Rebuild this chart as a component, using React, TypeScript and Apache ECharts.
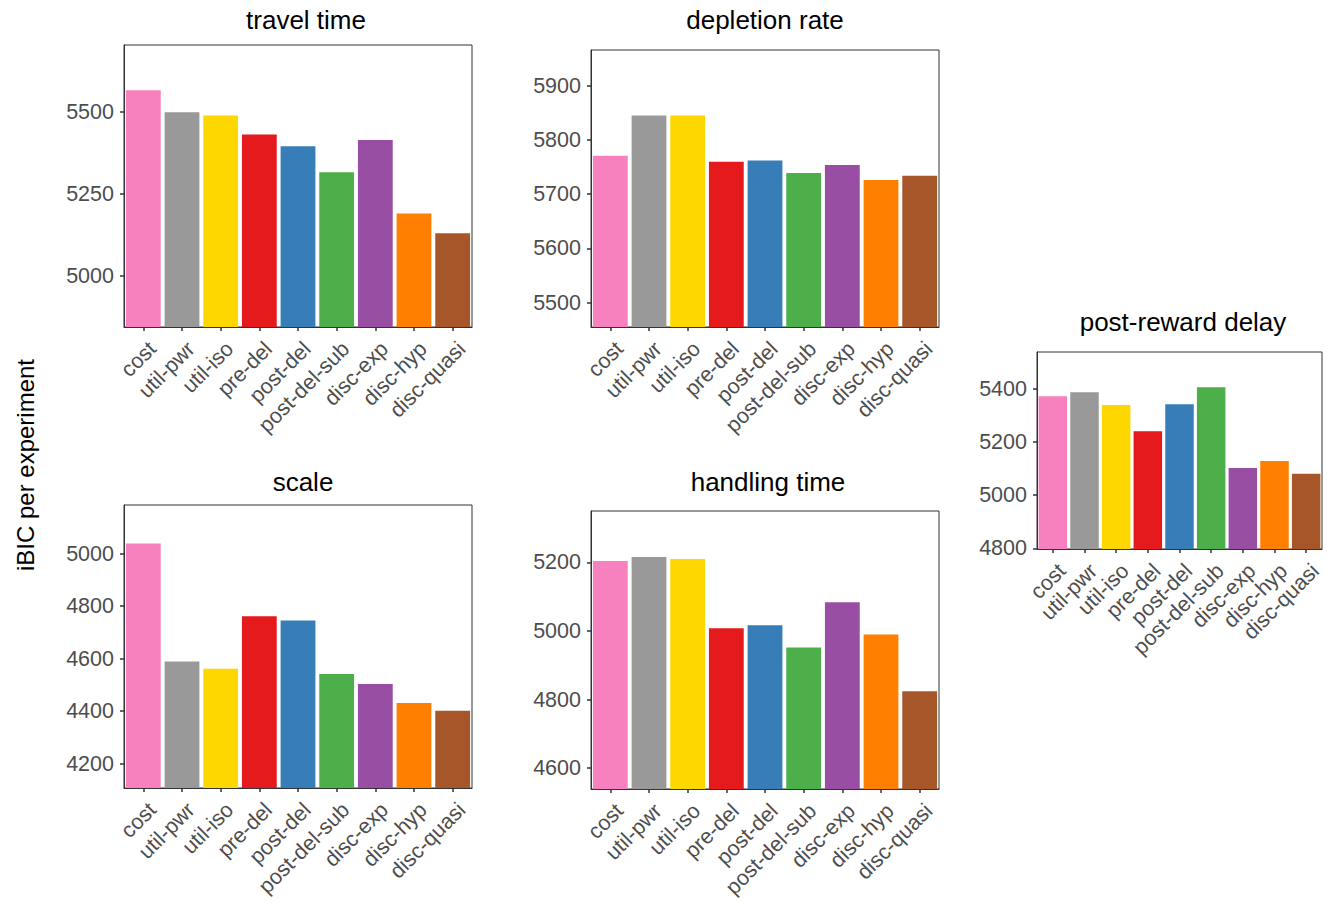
import React, { useEffect, useRef } from "react";
import * as echarts from "echarts";

// Model names shared by every panel
const models = [
  "cost",
  "util-pwr",
  "util-iso",
  "pre-del",
  "post-del",
  "post-del-sub",
  "disc-exp",
  "disc-hyp",
  "disc-quasi",
];

// Set1-style palette, one colour per model
const modelColors = [
  "#F781BF",
  "#999999",
  "#FFD700",
  "#E41A1C",
  "#377EB8",
  "#4DAF4A",
  "#984EA3",
  "#FF7F00",
  "#A65628",
];

// iBIC per experiment, one array per experiment
const travelTime = [5566, 5499, 5489, 5431, 5395, 5316, 5414, 5190, 5130];
const depletionRate = [5771, 5845, 5845, 5760, 5762, 5739, 5754, 5726, 5734];
const postRewardDelay = [5371, 5386, 5338, 5240, 5341, 5405, 5102, 5128, 5080];
const scaleExp = [5038, 4589, 4561, 4761, 4745, 4541, 4503, 4431, 4401];
const handlingTime = [5204, 5216, 5210, 5008, 5017, 4952, 5084, 4990, 4824];

// Tick labels per panel
const travelTicks = [5000, 5250, 5500];
const depletionTicks = [5500, 5600, 5700, 5800, 5900];
const delayTicks = [4800, 5000, 5200, 5400];
const scaleTicks = [4200, 4400, 4600, 4800, 5000];
const handlingTicks = [4600, 4800, 5000, 5200];

const panels = [
  { title: "travel time", values: travelTime, ticks: travelTicks, min: 4844, max: 5704, left: 124, top: 45, width: 348, height: 282, titleX: 306, titleY: 20 },
  { title: "depletion rate", values: depletionRate, ticks: depletionTicks, min: 5455, max: 5966, left: 591, top: 50, width: 348, height: 277, titleX: 765, titleY: 20 },
  { title: "post-reward delay", values: postRewardDelay, ticks: delayTicks, min: 4798, max: 5537, left: 1037, top: 352, width: 285, height: 197, titleX: 1183, titleY: 322 },
  { title: "scale", values: scaleExp, ticks: scaleTicks, min: 4107, max: 5185, left: 124, top: 505, width: 348, height: 283, titleX: 303, titleY: 482 },
  { title: "handling time", values: handlingTime, ticks: handlingTicks, min: 4539, max: 5350, left: 591, top: 511, width: 348, height: 278, titleX: 768, titleY: 482 },
];

const FONT = "'Liberation Sans', Arial, Helvetica, sans-serif";
const AXIS_COLOR = "#333333";
const LABEL_COLOR = "#4D4D4D";
const TICK_FONT = 21.5;

export default function App() {
  const ref = useRef<HTMLDivElement>(null);

  useEffect(() => {
    if (!ref.current) return;
    const chart = echarts.init(ref.current, null, { renderer: "svg" });

    const grid = panels.map((p) => ({
      left: p.left,
      top: p.top,
      width: p.width,
      height: p.height,
      show: true,
      borderColor: AXIS_COLOR,
      borderWidth: 1,
      backgroundColor: "#ffffff",
      containLabel: false,
      outerBoundsMode: "none",
    }));

    const xAxis = panels.map((p, i) => ({
      type: "category",
      gridIndex: i,
      data: models,
      axisLine: { show: true, lineStyle: { color: AXIS_COLOR, width: 1 } },
      axisTick: { show: true, alignWithLabel: true, length: 4, lineStyle: { color: AXIS_COLOR, width: 1.5 } },
      axisLabel: {
        interval: 0,
        rotate: 45,
        margin: 12,
        align: "right",
        verticalAlign: "top",
        padding: [0, -2, 0, 0],
        color: LABEL_COLOR,
        fontSize: TICK_FONT,
        fontFamily: FONT,
      },
      splitLine: { show: false },
    }));

    const yAxis = panels.map((p, i) => ({
      type: "value",
      gridIndex: i,
      min: p.min,
      max: p.max,
      axisLine: { show: true, lineStyle: { color: AXIS_COLOR, width: 1 } },
      axisTick: { show: true, length: 4, customValues: p.ticks, lineStyle: { color: AXIS_COLOR, width: 1.5 } },
      axisLabel: {
        customValues: p.ticks,
        formatter: (v: number) => String(Math.round(v)),
        margin: 10,
        color: LABEL_COLOR,
        fontSize: TICK_FONT,
        fontFamily: FONT,
      },
      splitLine: { show: false },
    }));

    const series = panels.map((p, i) => ({
      type: "bar",
      xAxisIndex: i,
      yAxisIndex: i,
      barCategoryGap: "10%",
      clip: true,
      data: p.values.map((v, j) => ({ value: v, itemStyle: { color: modelColors[j] } })),
    }));

    const titles = panels.map((p) => ({
      type: "text",
      x: p.titleX,
      y: p.titleY,
      style: {
        text: p.title,
        fontSize: 26,
        fontFamily: FONT,
        fill: "#000000",
        textAlign: "center",
        textVerticalAlign: "middle",
      },
    }));

    chart.setOption({
      animation: false,
      backgroundColor: "#ffffff",
      grid,
      xAxis,
      yAxis,
      series,
      graphic: [
        ...titles,
        {
          type: "text",
          x: 25,
          y: 465,
          rotation: Math.PI / 2,
          style: {
            text: "iBIC per experiment",
            fontSize: 24,
            fontFamily: FONT,
            fill: "#000000",
            textAlign: "center",
            textVerticalAlign: "middle",
          },
        },
      ],
    });

    return () => chart.dispose();
  }, []);

  return (
    <div
      ref={ref}
      style={{ position: "fixed", left: 0, top: 0, width: 1327, height: 903, background: "#ffffff" }}
    />
  );
}
